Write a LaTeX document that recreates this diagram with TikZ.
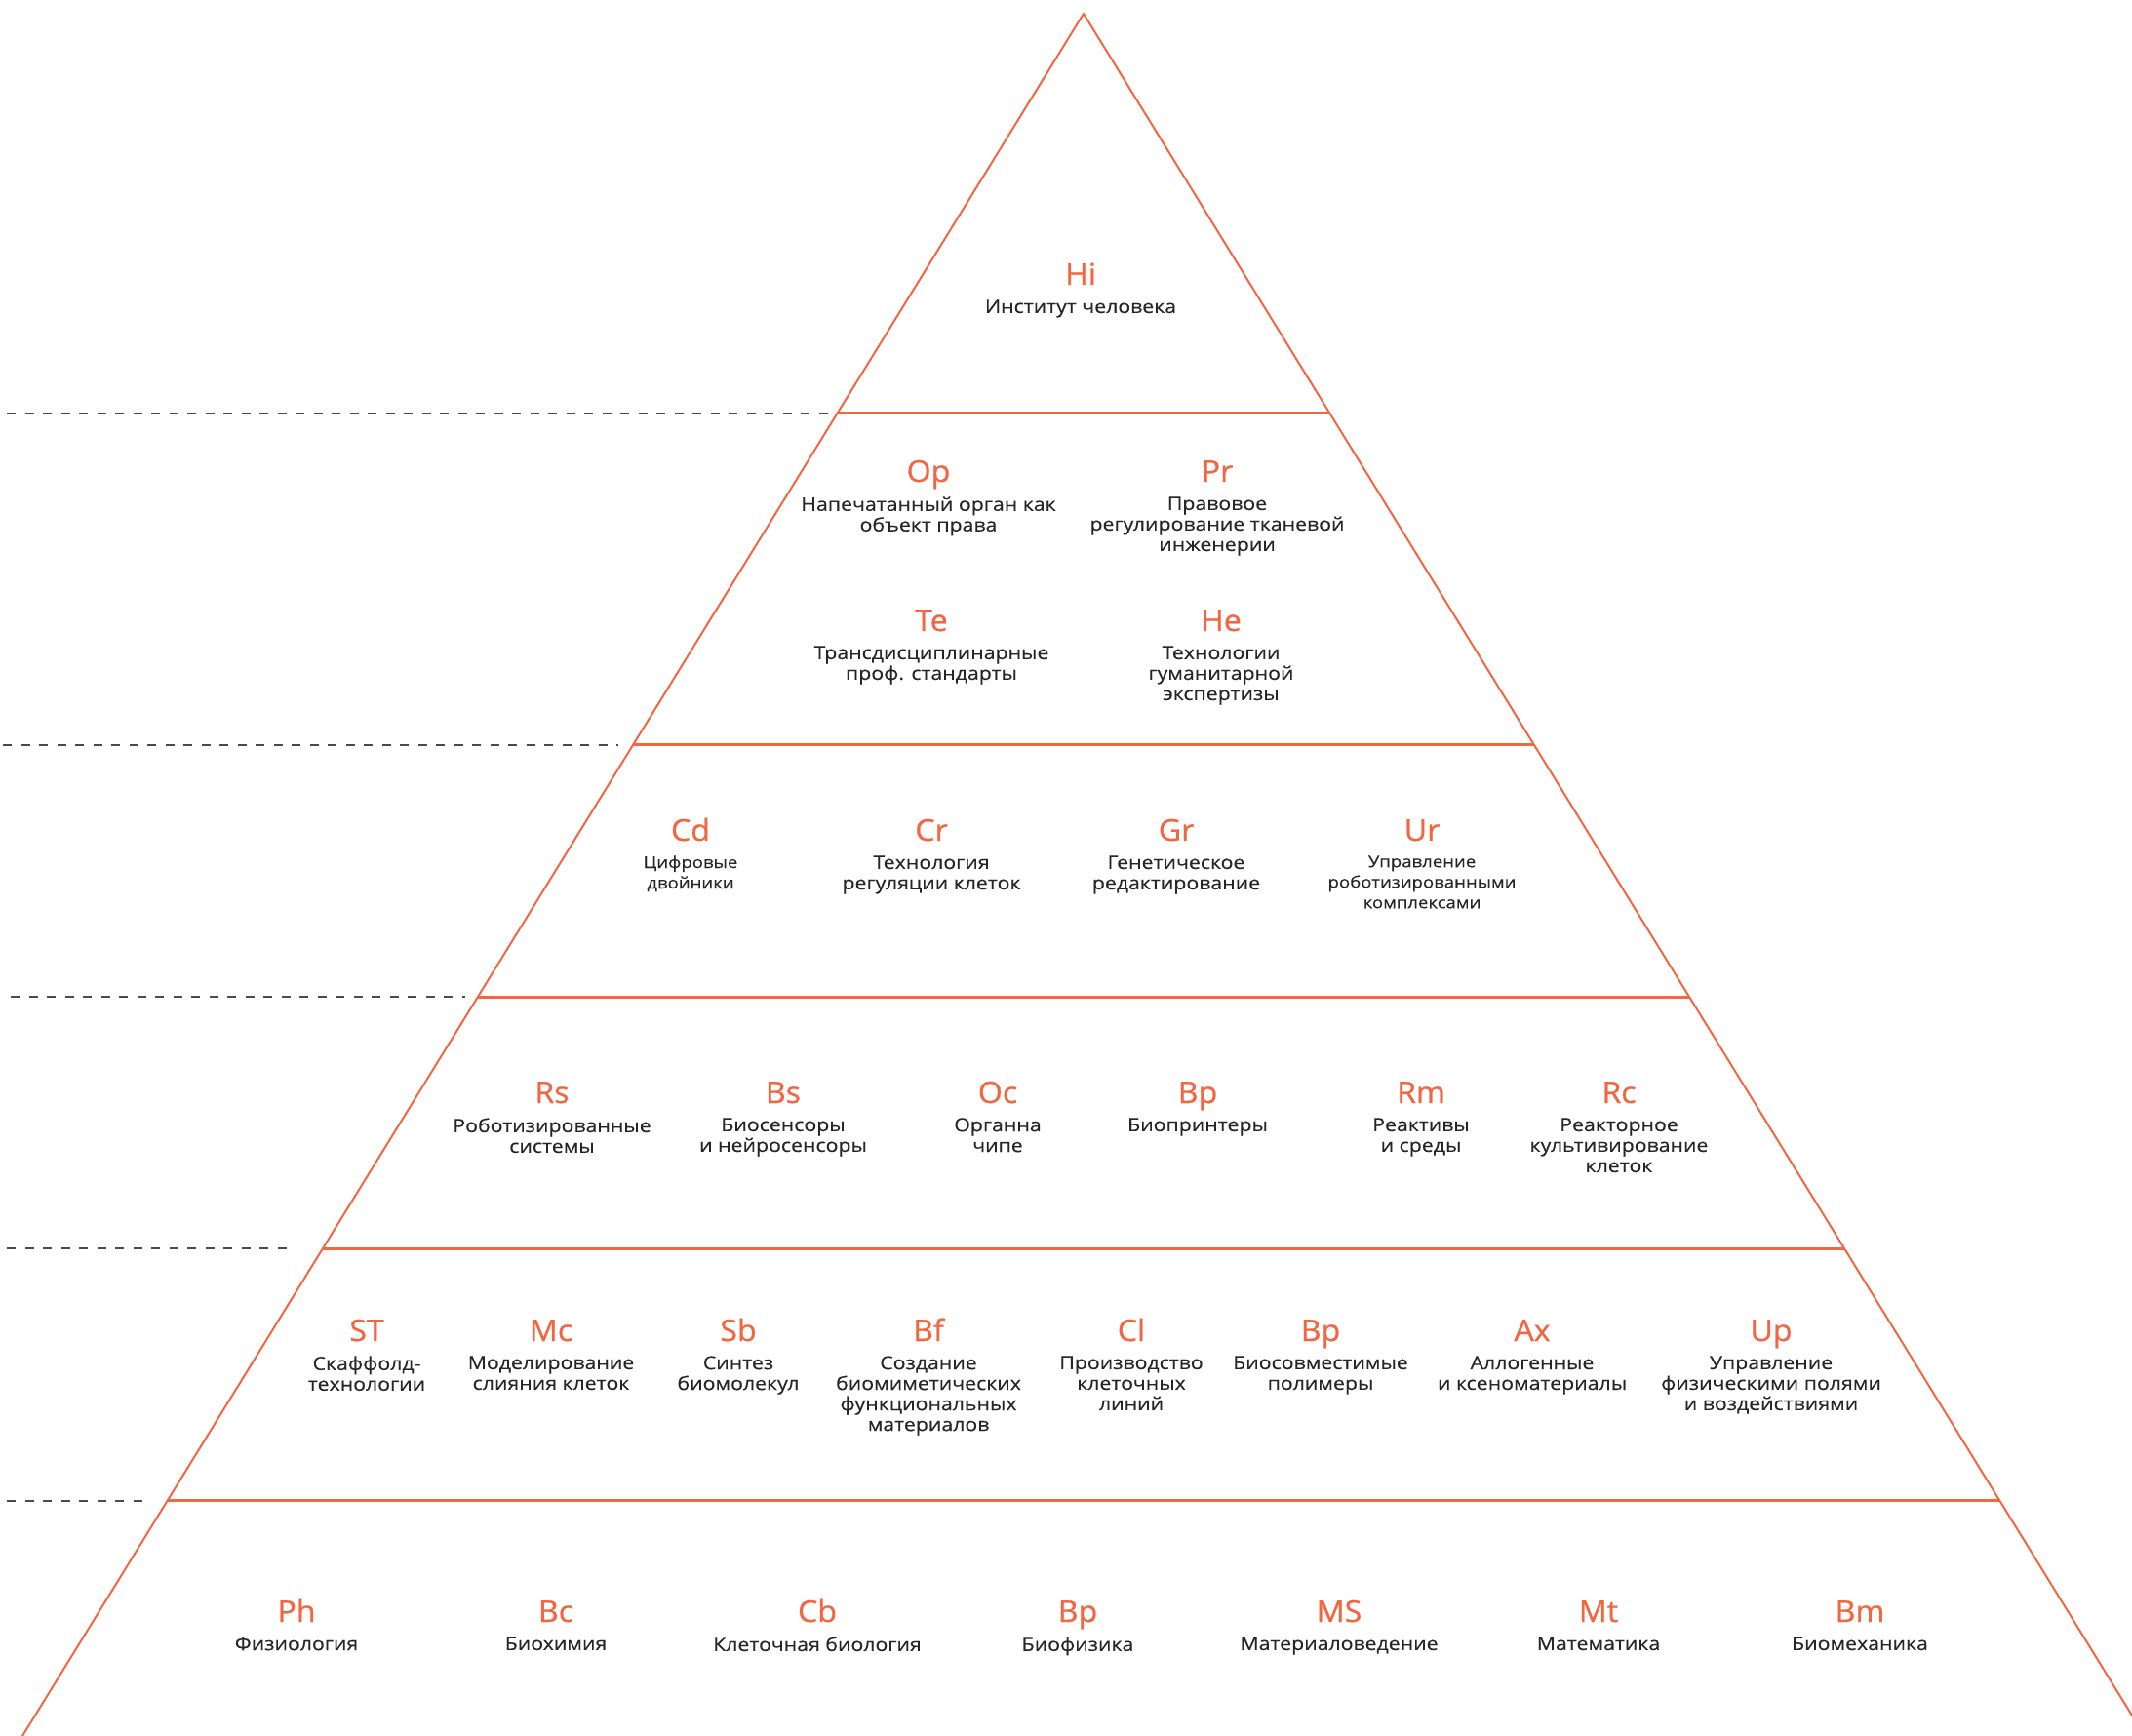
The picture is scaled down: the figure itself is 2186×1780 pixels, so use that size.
\documentclass[tikz,border=0pt]{standalone}
\usepackage{fontspec}
\setmainfont{Open Sans}
\newfontfamily\ttlfont[FakeStretch=1.05,FakeBold=0.8]{Open Sans}
\newfontfamily\dscfont[FakeStretch=1.12,FakeBold=0.3]{Open Sans}
\usetikzlibrary{calc}
\definecolor{pyr}{HTML}{F26641}
\definecolor{txt}{HTML}{262626}
\definecolor{dsh}{HTML}{4A4A4A}
\begin{document}
\begin{tikzpicture}[x=0.5pt,y=-0.5pt,
 edge/.style={draw=pyr,line width=1pt,line join=round},
 tier/.style={draw=pyr,line width=1.5pt},
 guide/.style={draw=dsh,line width=0.7pt,dash pattern=on 4.5pt off 4.75pt},
 ttl/.style={anchor=base,inner sep=0pt,text=pyr,font=\ttlfont\fontsize{15.3}{16}\selectfont},
 dsc/.style={anchor=north,inner sep=0pt,text=txt,align=center,font=\dscfont\fontsize{9.5}{10.5}\selectfont},
 dsm/.style={dsc,font=\dscfont\fontsize{8.3}{10.5}\selectfont}]
\useasboundingbox (0,0) rectangle (2186,1780);
\clip (0,0) rectangle (2186,1780);
% pyramid
\coordinate (apex) at (1111,14);
\coordinate (bl) at (23,1780);
\coordinate (br) at (2199,1780);
\draw[edge] (bl) -- (apex) -- (br);
\foreach \n/\t in {1/0.23216,2/0.42469,3/0.57078,4/0.71687,5/0.86353}{
  \coordinate (l\n) at ($(apex)!\t!(bl)$);
  \coordinate (r\n) at ($(apex)!\t!(br)$);
  \draw[tier] (l\n) -- (r\n);
}
% dashed guides
\coordinate (g1s) at (7,424);   \coordinate (g1e) at (857,424);
\coordinate (g2s) at (3,764);   \coordinate (g2e) at (634,764);
\coordinate (g3s) at (11,1022); \coordinate (g3e) at (477,1022);
\coordinate (g4s) at (7,1280);  \coordinate (g4e) at (300,1280);
\coordinate (g5s) at (7,1539);  \coordinate (g5e) at (153,1539);
\foreach \n in {1,...,5}{\draw[guide] (g\n s) -- (g\n e);}
% tier 1
\node[ttl] (hi) at (1108,292) {Hi};
\node[dsc] (hid) at ([yshift=-7.5pt]hi.base) {Институт человека};
% tier 2
\node[ttl] (op) at (952,494) {Op};
\node[dsc] (opd) at ([yshift=-7.5pt]op.base) {Напечатанный орган как\\объект права};
\node[ttl] (pr) at (1248,494) {Pr};
\node[dsc] (prd) at ([yshift=-7.5pt]pr.base) {Правовое\\регулирование тканевой\\инженерии};
\node[ttl] (te) at (955,647) {Te};
\node[dsc] (ted) at ([yshift=-7.5pt]te.base) {Трансдисциплинарные\\проф. стандарты};
\node[ttl] (he) at (1252,647) {He};
\node[dsc] (hed) at ([yshift=-7.5pt]he.base) {Технологии\\гуманитарной\\экспертизы};
% tier 3
\node[ttl] (cd) at (708,862) {Cd};
\node[dsm] (cdd) at ([yshift=-7.5pt]cd.base) {Цифровые\\двойники};
\node[ttl] (cr) at (955,862) {Cr};
\node[dsc] (crd) at ([yshift=-7.5pt]cr.base) {Технология\\регуляции клеток};
\node[ttl] (gr) at (1206,862) {Gr};
\node[dsc] (grd) at ([yshift=-7.5pt]gr.base) {Генетическое\\редактирование};
\node[ttl] (ur) at (1458,862) {Ur};
\node[dsm] (urd) at ([yshift=-7.5pt]ur.base) {Управление\\роботизированными\\комплексами};
% tier 4
\node[ttl] (rs) at (566,1131) {Rs};
\node[dsc] (rsd) at ([yshift=-7.5pt]rs.base) {Роботизированные\\системы};
\node[ttl] (bs) at (803,1131) {Bs};
\node[dsc] (bsd) at ([yshift=-7.5pt]bs.base) {Биосенсоры\\и нейросенсоры};
\node[ttl] (oc) at (1023,1131) {Oc};
\node[dsc] (ocd) at ([yshift=-7.5pt]oc.base) {Органна\\чипе};
\node[ttl] (bpa) at (1228,1131) {Bp};
\node[dsc] (bpad) at ([yshift=-7.5pt]bpa.base) {Биопринтеры};
\node[ttl] (rm) at (1457,1131) {Rm};
\node[dsc] (rmd) at ([yshift=-7.5pt]rm.base) {Реактивы\\и среды};
\node[ttl] (rc) at (1660,1131) {Rc};
\node[dsc] (rcd) at ([yshift=-7.5pt]rc.base) {Реакторное\\культивирование\\клеток};
% tier 5
\node[ttl] (st) at (376,1375) {ST};
\node[dsc] (std) at ([yshift=-7.5pt]st.base) {Скаффолд-\\технологии};
\node[ttl] (mc) at (565,1375) {Mc};
\node[dsc] (mcd) at ([yshift=-7.5pt]mc.base) {Моделирование\\слияния клеток};
\node[ttl] (sb) at (757,1375) {Sb};
\node[dsc] (sbd) at ([yshift=-7.5pt]sb.base) {Синтез\\биомолекул};
\node[ttl] (bf) at (952,1375) {Bf};
\node[dsc] (bfd) at ([yshift=-7.5pt]bf.base) {Создание\\биомиметических\\функциональных\\материалов};
\node[ttl] (cl) at (1160,1375) {Cl};
\node[dsc] (cld) at ([yshift=-7.5pt]cl.base) {Производство\\клеточных\\линий};
\node[ttl] (bpb) at (1354,1375) {Bp};
\node[dsc] (bpbd) at ([yshift=-7.5pt]bpb.base) {Биосовместимые\\полимеры};
\node[ttl] (ax) at (1571,1375) {Ax};
\node[dsc] (axd) at ([yshift=-7.5pt]ax.base) {Аллогенные\\и ксеноматериалы};
\node[ttl] (up) at (1816,1375) {Up};
\node[dsc] (upd) at ([yshift=-7.5pt]up.base) {Управление\\физическими полями\\и воздействиями};
% tier 6
\node[ttl] (ph) at (304,1663) {Ph};
\node[dsc] (phd) at ([yshift=-7.5pt]ph.base) {Физиология};
\node[ttl] (bc) at (570,1663) {Bc};
\node[dsc] (bcd) at ([yshift=-7.5pt]bc.base) {Биохимия};
\node[ttl] (cb) at (838,1663) {Cb};
\node[dsc] (cbd) at ([yshift=-7.5pt]cb.base) {Клеточная биология};
\node[ttl] (bpc) at (1105,1663) {Bp};
\node[dsc] (bpcd) at ([yshift=-7.5pt]bpc.base) {Биофизика};
\node[ttl] (ms) at (1373,1663) {MS};
\node[dsc] (msd) at ([yshift=-7.5pt]ms.base) {Материаловедение};
\node[ttl] (mt) at (1639,1663) {Mt};
\node[dsc] (mtd) at ([yshift=-7.5pt]mt.base) {Математика};
\node[ttl] (bm) at (1907,1663) {Bm};
\node[dsc] (bmd) at ([yshift=-7.5pt]bm.base) {Биомеханика};
\end{tikzpicture}
\end{document}
